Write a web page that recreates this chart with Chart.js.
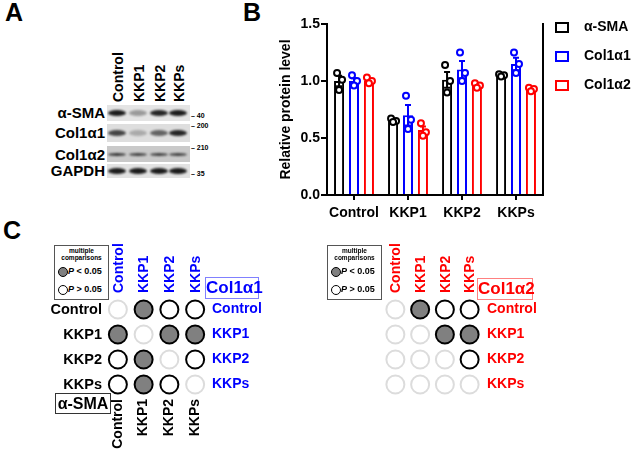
<!DOCTYPE html>
<html>
<head>
<meta charset="utf-8">
<script src="https://cdn.jsdelivr.net/npm/chart.js@4.4.1/dist/chart.umd.min.js"></script>
<style>
  body { margin: 0; background: #fff; font-family: Arial, "Liberation Sans", sans-serif; }
  #page { position: relative; width: 631px; height: 449px; overflow: hidden; background: #fff; }
  .abs { position: absolute; }
  .panel { font-weight: bold; font-size: 25px; color: #000; }
  .lbl { font-weight: bold; white-space: nowrap; }
  .strip { position: absolute; left: 107px; width: 83px; overflow: hidden; }
  .band { position: absolute; border-radius: 50%; background: #111; filter: blur(1.2px); }
  .mw { font-size: 7px; font-weight: bold; position: absolute; }
</style>
</head>
<body>
<div id="page">
  <div class="abs panel" style="left:5px;top:-2px">A</div>
  <div class="abs panel" style="left:243px;top:-2px">B</div>
  <div class="abs panel" style="left:3px;top:216px">C</div>

  <div id="blot"></div>

  <canvas id="barChart" class="abs" style="left:270px;top:0px" width="290" height="230"></canvas>
  <div id="legendB"></div>

  <canvas id="matLeft" class="abs" style="left:0px;top:210px" width="300" height="239"></canvas>
  <canvas id="matRight" class="abs" style="left:320px;top:210px" width="311" height="239"></canvas>
  <div id="extrasC"></div>
</div>

<script>
// ---- data ----
var groups = ['Control', 'KKP1', 'KKP2', 'KKPs'];
var seriesNames = ['α-SMA', 'Col1α1', 'Col1α2'];
var seriesColors = ['#000000', '#0000ff', '#ff0000'];

var smaMean = [1.00, 0.65, 1.01, 1.05];
var col1a1Mean = [1.00, 0.70, 1.10, 1.15];
var col1a2Mean = [1.00, 0.57, 0.96, 0.93];

var smaSem = [0.045, 0.01, 0.07, 0.006];
var col1a1Sem = [0.025, 0.09, 0.075, 0.055];
var col1a2Sem = [0.015, 0.03, 0.012, 0.009];

var smaPoints = [[1.07, 1.01, 0.92], [0.67, 0.65, 0.64], [1.14, 1.00, 0.90], [1.06, 1.05, 1.04]];
var col1a1Points = [[1.05, 1.00, 0.96], [0.87, 0.66, 0.58], [1.25, 1.07, 1.00], [1.25, 1.15, 1.07]];
var col1a2Points = [[1.03, 1.00, 0.98], [0.63, 0.55, 0.52], [0.98, 0.96, 0.94], [0.94, 0.93, 0.91]];

var yTicks = [0, 0.5, 1.0, 1.5];

// 2 = P < 0.05, 1 = P > 0.05, 0 = no comparison shown
var sigSmaCol1a1 = [[0, 2, 1, 1], [2, 0, 2, 2], [1, 2, 0, 1], [1, 2, 1, 0]];
var sigCol1a2 = [[0, 2, 1, 1], [0, 0, 2, 2], [0, 0, 0, 1], [0, 0, 0, 0]];

// blot band darkness per lane
var blotRows = ['α-SMA', 'Col1α1', 'Col1α2', 'GAPDH'];
var blotBands = [[0.95, 0.35, 0.9, 0.95], [0.75, 0.25, 0.6, 0.9], [0.8, 0.75, 0.75, 0.75], [0.95, 0.95, 0.95, 0.95]];
var blotMarkers = ['40', '200', '210', '35'];

Chart.defaults.font.family = 'Arial, "Liberation Sans", sans-serif';
Chart.defaults.color = '#000';

// ---- panel A: blot ----
(function() {
    var blot = document.getElementById('blot');
    var laneX = [117, 138, 159, 178];
    var strips = [
        {top: 105, h: 16, bg: '#e4e4e4', bandH: 6},
        {top: 124, h: 18, bg: '#dedede', bandH: 6},
        {top: 146, h: 16, bg: '#c9c9c9', bandH: 3},
        {top: 164, h: 14, bg: '#e2e2e2', bandH: 6}
    ];
    var labelY = [113, 133, 155, 171];
    var markerY = [117, 127, 149, 175];
    var html = '';
    groups.forEach(function(g, i) {
        html += '<div class="abs lbl" style="font-size:14px;left:' + (laneX[i] - 7) + 'px;top:102px;transform-origin:0 0;transform:rotate(-90deg)">' + g + '</div>';
    });
    strips.forEach(function(s, r) {
        html += '<div class="strip" style="top:' + s.top + 'px;height:' + s.h + 'px;background:' + s.bg + '">';
        blotBands[r].forEach(function(v, i) {
            var cx = laneX[i] - 107;
            html += '<div class="band" style="left:' + (cx - 9) + 'px;top:' + (s.h / 2 - s.bandH / 2) + 'px;width:18px;height:' + s.bandH + 'px;opacity:' + v + '"></div>';
        });
        html += '</div>';
        html += '<div class="abs lbl" style="font-size:15px;right:' + (631 - 105) + 'px;top:' + (labelY[r] - 9) + 'px">' + blotRows[r] + '</div>';
        html += '<div class="mw" style="left:191px;top:' + (markerY[r] - 5) + 'px">– ' + blotMarkers[r] + '</div>';
    });
    blot.innerHTML = html;
})();

// ---- panel B: bar chart ----
var pointSets = [smaPoints, col1a1Points, col1a2Points];
var semSets = [smaSem, col1a1Sem, col1a2Sem];
var jitter = [-2, 3, 0];

var dotsPlugin = {
    id: 'dots',
    afterDatasetsDraw: function(chart) {
        var ctx = chart.ctx;
        var yScale = chart.scales.y;
        ctx.save();
        chart.data.datasets.forEach(function(ds, d) {
            var meta = chart.getDatasetMeta(d);
            meta.data.forEach(function(bar, j) {
                var mean = ds.data[j];
                var sem = semSets[d][j];
                var yTop = yScale.getPixelForValue(mean + sem);
                var yBot = yScale.getPixelForValue(mean - sem);
                ctx.strokeStyle = seriesColors[d];
                ctx.lineWidth = 2;
                ctx.beginPath();
                ctx.moveTo(bar.x, yTop); ctx.lineTo(bar.x, yBot);
                ctx.moveTo(bar.x - 3, yTop); ctx.lineTo(bar.x + 3, yTop);
                ctx.moveTo(bar.x - 3, yBot); ctx.lineTo(bar.x + 3, yBot);
                ctx.stroke();
                pointSets[d][j].forEach(function(v, k) {
                    ctx.beginPath();
                    ctx.arc(bar.x + jitter[k], yScale.getPixelForValue(v), 3, 0, Math.PI * 2);
                    ctx.fillStyle = '#fff';
                    ctx.fill();
                    ctx.stroke();
                });
            });
        });
        ctx.restore();
    }
};

var barChart = new Chart(document.getElementById('barChart'), {
    type: 'bar',
    data: {
        labels: groups,
        datasets: [smaMean, col1a1Mean, col1a2Mean].map(function(vals, i) {
            return {
                label: seriesNames[i],
                data: vals,
                backgroundColor: '#fff',
                borderColor: seriesColors[i],
                borderWidth: 2,
                categoryPercentage: 0.83,
                barPercentage: 0.67
            };
        })
    },
    options: {
        responsive: false,
        animation: false,
        events: [],
        layout: { padding: { top: 24, right: 17, left: 0, bottom: 0 } },
        plugins: { legend: { display: false }, tooltip: { enabled: false } },
        scales: {
            x: {
                offset: true,
                grid: { display: true, drawOnChartArea: false, drawTicks: true, tickLength: 5, color: '#000', lineWidth: 2, offset: false },
                border: { display: true, color: '#000', width: 2 },
                ticks: { color: '#000', font: { size: 14, weight: 'bold' }, padding: 5, maxRotation: 0 },
                afterFit: function(s) { s.height = 35; }
            },
            y: {
                min: 0, max: 1.5,
                afterBuildTicks: function(s) { s.ticks = yTicks.map(function(v) { return {value: v}; }); },
                ticks: { color: '#000', font: { size: 14, weight: 'bold' }, padding: 1,
                    callback: function(v) { return Number(v).toFixed(1); } },
                grid: { display: true, drawOnChartArea: false, tickLength: 6, color: '#000', lineWidth: 2 },
                border: { display: true, color: '#000', width: 2 },
                title: { display: true, text: 'Relative protein level', color: '#000',
                    font: { size: 14, weight: 'bold' }, padding: { top: 8, bottom: 0 } },
                afterFit: function(s) { s.width = 57; }
            },
            y2: {
                position: 'right', min: 0, max: 1.5,
                grid: { display: true, drawOnChartArea: false, drawTicks: false },
                ticks: { display: false },
                border: { display: true, color: '#000', width: 2 },
                afterFit: function(s) { s.width = 0; }
            }
        }
    },
    plugins: [dotsPlugin]
});

// legend for B
(function() {
    var rowsY = [27, 56, 85];
    var html = '';
    seriesNames.forEach(function(n, i) {
        html += '<div class="abs" style="left:555px;top:' + (rowsY[i] - 5) + 'px;width:10px;height:7px;border:2px solid ' + seriesColors[i] + '"></div>';
        html += '<div class="abs lbl" style="left:584px;top:' + (rowsY[i] - 9) + 'px;font-size:14px">' + n + '</div>';
    });
    document.getElementById('legendB').innerHTML = html;
})();

// ---- panel C: comparison matrices ----
function matrixData(sig) {
    var pts = [], fill = [], edge = [];
    sig.forEach(function(row, r) {
        row.forEach(function(v, c) {
            pts.push({ x: groups[c], y: groups[r] });
            fill.push(v === 2 ? '#808080' : '#ffffff');
            edge.push(v === 0 ? '#dcdcdc' : '#000000');
        });
    });
    return { data: pts, pointRadius: 9, pointBorderWidth: 2, pointBackgroundColor: fill, pointBorderColor: edge };
}

function catAxis(pos, color, rotate, size, pad, fontSize) {
    return {
        type: 'category', labels: groups, position: pos, offset: true, display: true,
        grid: { display: false, drawTicks: false },
        border: { display: false },
        ticks: { color: color, font: { size: fontSize, weight: 'bold' }, padding: pad,
            maxRotation: rotate ? 90 : 0, minRotation: rotate ? 90 : 0, autoSkip: false },
        afterFit: function(s) { if (s.isHorizontal()) s.height = size; else s.width = size; }
    };
}

// column labels above the matrix, rotated, read upward from the top row
function topLabels(color) {
    return {
        id: 'topLabels',
        afterDraw: function(chart) {
            var ctx = chart.ctx;
            var xs = chart.scales.x;
            ctx.save();
            ctx.font = 'bold 14px Arial, "Liberation Sans", sans-serif';
            ctx.fillStyle = color;
            ctx.textAlign = 'left';
            ctx.textBaseline = 'middle';
            groups.forEach(function(g, i) {
                ctx.save();
                ctx.translate(xs.getPixelForValue(i) + 1, chart.chartArea.top - 4);
                ctx.rotate(-Math.PI / 2);
                ctx.fillText(g, 0, 0);
                ctx.restore();
            });
            ctx.restore();
        }
    };
}

var clear = 'rgba(0,0,0,0)';

new Chart(document.getElementById('matLeft'), {
    type: 'scatter',
    data: { datasets: [matrixData(sigSmaCol1a1)] },
    options: {
        responsive: false, animation: false, events: [],
        layout: { padding: 0 },
        plugins: { legend: { display: false }, tooltip: { enabled: false } },
        scales: {
            x: catAxis('bottom', '#000', true, 52, 2, 14),
            x2: catAxis('top', clear, true, 87, 4, 14),
            y: catAxis('left', '#000', false, 105, 3, 14.5),
            y2: catAxis('right', '#0000ff', false, 92, 4, 14)
        }
    },
    plugins: [topLabels('#0000ff')]
});

new Chart(document.getElementById('matRight'), {
    type: 'scatter',
    data: { datasets: [matrixData(sigCol1a2)] },
    options: {
        responsive: false, animation: false, events: [],
        layout: { padding: 0 },
        plugins: { legend: { display: false }, tooltip: { enabled: false } },
        scales: {
            x: catAxis('bottom', clear, true, 52, 2, 14),
            x2: catAxis('top', clear, true, 87, 4, 14),
            y: catAxis('left', clear, false, 63, 3, 14),
            y2: catAxis('right', '#ff0000', false, 149, 5, 14)
        }
    },
    plugins: [topLabels('#ff0000')]
});

// legends and boxed titles for C
(function() {
    function legendBox(left) {
        return '<div class="abs" style="left:' + left + 'px;top:245px;width:53px;height:53px;border:1px solid #555;background:#fff">' +
            '<div class="abs lbl" style="left:0;width:53px;top:1px;text-align:center;font-size:6.5px;line-height:7px">multiple<br>comparisons</div>' +
            '<div class="abs" style="left:3px;top:21px;width:8px;height:8px;border-radius:50%;background:#808080;border:1px solid #000"></div>' +
            '<div class="abs lbl" style="left:13px;top:20px;font-size:9px"><i>P</i> &lt; 0.05</div>' +
            '<div class="abs" style="left:3px;top:39px;width:8px;height:8px;border-radius:50%;background:#fff;border:1px solid #000"></div>' +
            '<div class="abs lbl" style="left:13px;top:38px;font-size:9px"><i>P</i> &gt; 0.05</div>' +
            '</div>';
    }
    var html = legendBox(54) + legendBox(327);
    html += '<div class="abs lbl" style="left:205px;top:277px;width:52px;height:20px;border:1px solid #8080ff;color:#0000ff;font-size:17px;line-height:20px;text-align:center">Col1α1</div>';
    html += '<div class="abs lbl" style="left:477px;top:278px;width:54px;height:20px;border:1px solid #ff8080;color:#ff0000;font-size:17px;line-height:20px;text-align:center">Col1α2</div>';
    html += '<div class="abs lbl" style="left:55px;top:393px;width:54px;height:19px;border:1px solid #333;color:#000;font-size:16px;line-height:19px;text-align:center">α-SMA</div>';
    document.getElementById('extrasC').innerHTML = html;
})();
</script>
</body>
</html>
